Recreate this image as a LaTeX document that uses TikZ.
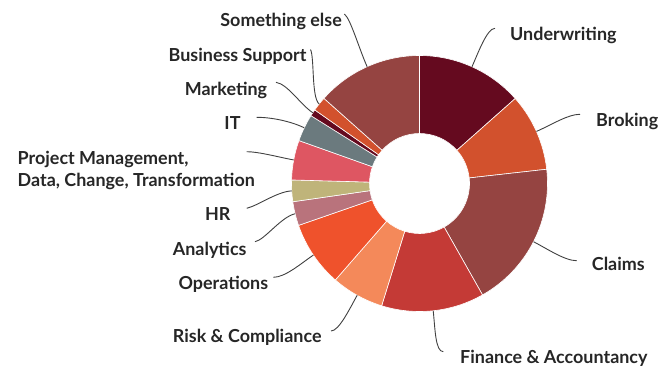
\documentclass[tikz,border=0pt]{standalone}
\usepackage{fontspec}
\setmainfont{Lato}
\usetikzlibrary{calc}
\definecolor{cUW}{HTML}{650A1F}
\definecolor{cBR}{HTML}{D2512D}
\definecolor{cCL}{HTML}{954441}
\definecolor{cFI}{HTML}{C43A36}
\definecolor{cRI}{HTML}{F4895A}
\definecolor{cOP}{HTML}{EF522C}
\definecolor{cAN}{HTML}{B9737C}
\definecolor{cHR}{HTML}{BFB47A}
\definecolor{cPM}{HTML}{DE5662}
\definecolor{cIT}{HTML}{6B7A7E}
\definecolor{labeltxt}{HTML}{262626}
\definecolor{leadercol}{HTML}{404040}
\tikzset{
  lbl/.style={font=\bfseries\fontsize{18}{22}\selectfont, text=labeltxt, inner sep=0pt},
  leader/.style={draw=leadercol, line width=0.9bp},
  slicesep/.style={draw=white, line width=0.6bp}
}
\newcommand\donutslice[3]{%
  \filldraw[fill=#3, slicesep] (#1:128) arc[start angle=#1, end angle=#2, radius=128]
    -- (#2:50) arc[start angle=#2, end angle=#1, radius=50] -- cycle;}
\begin{document}
\begin{tikzpicture}[x=1bp,y=-1bp]
\useasboundingbox (0,0) rectangle (658,367);
\begin{scope}[shift={(419.5,183.5)}]
  \donutslice{-90}{-41.6}{cUW}
  \donutslice{-41.6}{-6.4}{cBR}
  \donutslice{-6.4}{60.5}{cCL}
  \donutslice{60.5}{107.2}{cFI}
  \donutslice{107.2}{131.1}{cRI}
  \donutslice{131.1}{160.9}{cOP}
  \donutslice{160.9}{171.8}{cAN}
  \donutslice{171.8}{181.6}{cHR}
  \donutslice{181.6}{199.6}{cPM}
  \donutslice{199.6}{212}{cIT}
  \donutslice{212}{215.1}{cUW}
  \donutslice{215.1}{221.7}{cBR}
  \donutslice{221.7}{270}{cCL}
  \coordinate (eUW) at (-65.8:128);
  \coordinate (eBR) at (-24:128);
  \coordinate (eCL) at (27.05:128);
  \coordinate (eFI) at (83.85:128);
  \coordinate (eRI) at (119.15:128);
  \coordinate (eOP) at (146:128);
  \coordinate (eAN) at (166.35:128);
  \coordinate (eHR) at (176.7:128);
  \coordinate (ePM) at (190.6:128);
  \coordinate (eIT) at (205.8:128);
  \coordinate (eMK) at (213.55:128);
  \coordinate (eBS) at (218.4:128);
  \coordinate (eSE) at (245.85:128);
\end{scope}
% leader ends
\coordinate (lSE) at (344.3,14);
\coordinate (lBS) at (310.5,49.5);
\coordinate (lMK) at (276,82.3);
\coordinate (lIT) at (256.7,117.3);
\coordinate (lPM) at (246.7,151.7);
\coordinate (lHR) at (246.7,208.3);
\coordinate (lAN) at (255,241.7);
\coordinate (lOP) at (273.3,277.3);
\coordinate (lRI) at (331,331);
\coordinate (lFI) at (443.3,351.7);
\coordinate (lCL) at (576.7,260.7);
\coordinate (lBR) at (580,114.3);
\coordinate (lUW) at (495,28.3);
% leaders
\draw[leader] (eUW) .. controls ($(eUW)+(-65.8:15)$) and ($(lUW)+(-8,0)$) .. (lUW);
\draw[leader] (eBR) .. controls ($(eBR)+(-24:18)$) and ($(lBR)+(-12,0)$) .. (lBR);
\draw[leader] (eCL) .. controls ($(eCL)+(27.05:15)$) and ($(lCL)+(-12,0)$) .. (lCL);
\draw[leader] (eFI) .. controls ($(eFI)+(83.85:18)$) and ($(lFI)+(-8,0)$) .. (lFI);
\draw[leader] (eRI) .. controls ($(eRI)+(119.15:15)$) and ($(lRI)+(8,0)$) .. (lRI);
\draw[leader] (eOP) .. controls ($(eOP)+(146:15)$) and ($(lOP)+(12,0)$) .. (lOP);
\draw[leader] (eAN) .. controls ($(eAN)+(166.35:15)$) and ($(lAN)+(10,-2)$) .. (lAN);
\draw[leader] (eHR) .. controls ($(eHR)+(176.7:15)$) and ($(lHR)+(12,-3)$) .. (lHR);
\draw[leader] (ePM) .. controls ($(ePM)+(190.6:15)$) and ($(lPM)+(12,0)$) .. (lPM);
\draw[leader] (eIT) .. controls ($(eIT)+(205.8:15)$) and ($(lIT)+(15,0)$) .. (lIT);
\draw[leader] (eMK) .. controls ($(eMK)+(213.55:15)$) and ($(lMK)+(12,2)$) .. (lMK);
\draw[leader] (eBS) .. controls ($(eBS)+(218.4:10)$) and ($(lBS)+(4,8)$) .. (lBS);
\draw[leader] (eSE) .. controls ($(eSE)+(245.85:20)$) and ($(lSE)+(6,4)$) .. (lSE);
% labels
\node[lbl, anchor=base west] (tUW) at (510,40) {Underwriting};
\node[lbl, anchor=base west] (tBR) at (596,126.7) {Broking};
\node[lbl, anchor=base west] (tCL) at (591.7,270.7) {Claims};
\node[lbl, anchor=base west] (tFI) at (460,363.3) {Finance \& Accountancy};
\node[lbl, anchor=base east] (tRI) at (321.7,342.7) {Risk \& Compliance};
\node[lbl, anchor=base east] (tOP) at (268.3,289.3) {Operations};
\node[lbl, anchor=base east] (tAN) at (246.7,255) {Analytics};
\node[lbl, anchor=base east] (tHR) at (230.7,220.7) {HR};
\node[lbl, anchor=north east, align=left] (tPM) at (255,150.7) {Project Management,\\Data, Change, Transformation};
\node[lbl, anchor=base east] (tIT) at (240.7,129.3) {IT};
\node[lbl, anchor=base east] (tMK) at (267.3,95.7) {Marketing};
\node[lbl, anchor=base east] (tBS) at (306.7,61.7) {Business Support};
\node[lbl, anchor=base east] (tSE) at (342,26) {Something else};
\end{tikzpicture}
\end{document}
